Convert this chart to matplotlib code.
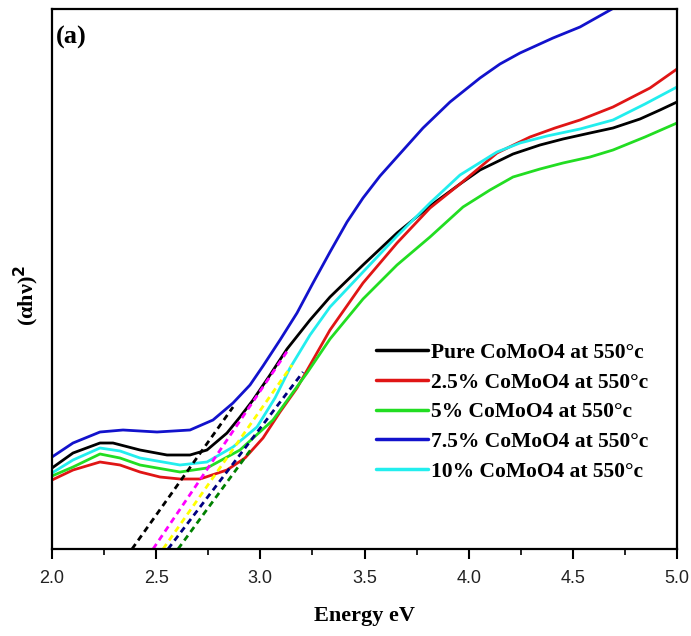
import matplotlib
matplotlib.use("Agg")
import matplotlib.pyplot as plt
import numpy as np
from matplotlib.ticker import MultipleLocator

# ---------------- data (energy in eV, (alpha h nu)^2 in arbitrary units) ----------------
def E(px):
    return 2 + (np.asarray(px, dtype=float) - 52) * 3 / 625

def Y(py):
    return 549 - np.asarray(py, dtype=float)

pure_x = E([52, 73, 100, 113, 140, 167, 190, 207, 227, 240, 253, 270, 287, 310, 330, 363, 397,
            430, 460, 480, 513, 540, 563, 590, 613, 640, 660, 677])
pure_y = Y([468, 453, 443, 443, 450, 455, 455, 450, 433, 417, 400, 375, 349, 320, 297, 265, 233,
            206, 184, 170, 154, 145, 139, 133, 128, 119, 110, 102])

p25_x = E([52, 73, 100, 120, 140, 160, 180, 200, 227, 245, 263, 280, 297, 330, 363, 397, 430,
           460, 497, 530, 555, 580, 613, 650, 677])
p25_y = Y([480, 470, 462, 465, 472, 477, 479, 479, 470, 458, 438, 412, 388, 330, 283, 243, 208,
           184, 153, 137, 128, 120, 107, 88, 69])

p5_x = E([52, 73, 100, 120, 140, 180, 207, 240, 273, 307, 330, 363, 397, 430, 463, 490, 513,
          540, 563, 590, 613, 645, 677])
p5_y = Y([476, 467, 454, 458, 465, 472, 468, 450, 420, 373, 339, 299, 265, 237, 207, 190, 177,
          169, 163, 157, 150, 137, 123])

p75_x = E([52, 73, 100, 123, 157, 190, 213, 233, 250, 263, 280, 297, 313, 330, 347, 363, 380,
           397, 423, 450, 480, 500, 520, 553, 580, 612, 640])
p75_y = Y([457, 443, 432, 430, 432, 430, 420, 403, 385, 366, 340, 313, 283, 252, 222, 198, 176,
           157, 128, 102, 78, 64, 53, 38, 27, 9, -3])

p10_x = E([52, 73, 100, 120, 140, 180, 207, 233, 257, 275, 290, 310, 330, 363, 397, 430, 460,
           497, 520, 547, 580, 613, 645, 677])
p10_y = Y([473, 460, 448, 451, 458, 465, 462, 447, 427, 398, 368, 335, 307, 272, 236, 203, 175,
           152, 143, 136, 129, 120, 104, 87])

# Tauc tangent lines: start energy (on the baseline), end energy, end value
tan_x0 = [2.384, 2.485, 2.533, 2.557, 2.605]
tan_x1 = [2.869, 3.133, 3.152, 3.205, 2.960]
tan_y1 = [142, 199, 184, 177, 101]
tan_colors = ["black", "#ff00ff", "#ffff00", "#000080", "#008000"]

labels = ["Pure CoMoO4 at 550°c", "2.5% CoMoO4 at 550°c", "5% CoMoO4 at 550°c",
          "7.5% CoMoO4 at 550°c", "10% CoMoO4 at 550°c"]
colors = ["black", "#e01515", "#22dd22", "#1212cc", "#22eeee"]

# ---------------- figure ----------------
fig = plt.figure(figsize=(6.91, 6.36), dpi=100)
ax = fig.add_axes([52 / 691, 1 - 549 / 636, 625 / 691, 540 / 636])

serif = ["Liberation Serif", "DejaVu Serif"]
sans = ["Liberation Sans Narrow", "Liberation Sans", "DejaVu Sans"]

series = [(pure_x, pure_y), (p25_x, p25_y), (p5_x, p5_y), (p75_x, p75_y), (p10_x, p10_y)]
for (x, y), c, lab in zip(series, colors, labels):
    ax.plot(x, y, color=c, lw=2.0, label=lab, solid_capstyle="round", solid_joinstyle="round")

for x0, x1, y1, c in zip(tan_x0, tan_x1, tan_y1, tan_colors):
    ax.plot([x0, x1], [0, y1], color=c, lw=2.0, ls=(0, (2.2, 1.6)))

ax.set_xlim(2.0, 5.0)
ax.set_ylim(0, 540)
ax.xaxis.set_major_locator(MultipleLocator(0.5))
ax.xaxis.set_minor_locator(MultipleLocator(0.25))
ax.set_yticks([])
ax.tick_params(axis="x", which="major", direction="out", length=7, width=1.5, labelsize=13, pad=8)
ax.tick_params(axis="x", which="minor", direction="out", length=4, width=1.2)
for lab in ax.get_xticklabels():
    lab.set_family(sans)
    lab.set_color("#222222")
for sp in ax.spines.values():
    sp.set_linewidth(1.6)

ax.set_xlabel("Energy eV", fontsize=16, fontweight="bold", family=serif, labelpad=14)
ax.set_ylabel("(αhν)$^\\mathbf{2}$", fontsize=16, fontweight="bold", family=serif)
ax.yaxis.set_label_coords(-0.018, 0.47)

ax.text(0.006, 0.968, "(a)", transform=ax.transAxes, ha="left", va="top",
        fontsize=19, fontweight="bold", family=serif)

leg = ax.legend(loc="upper left", bbox_to_anchor=(0.505, 0.398), frameon=False,
                prop={"family": serif, "weight": "bold", "size": 15.5},
                handlelength=2.4, handletextpad=0.15, labelspacing=0.45, borderaxespad=0)
for h in leg.get_lines():
    h.set_linewidth(2.5)

fig.savefig("out.png", dpi=100)
